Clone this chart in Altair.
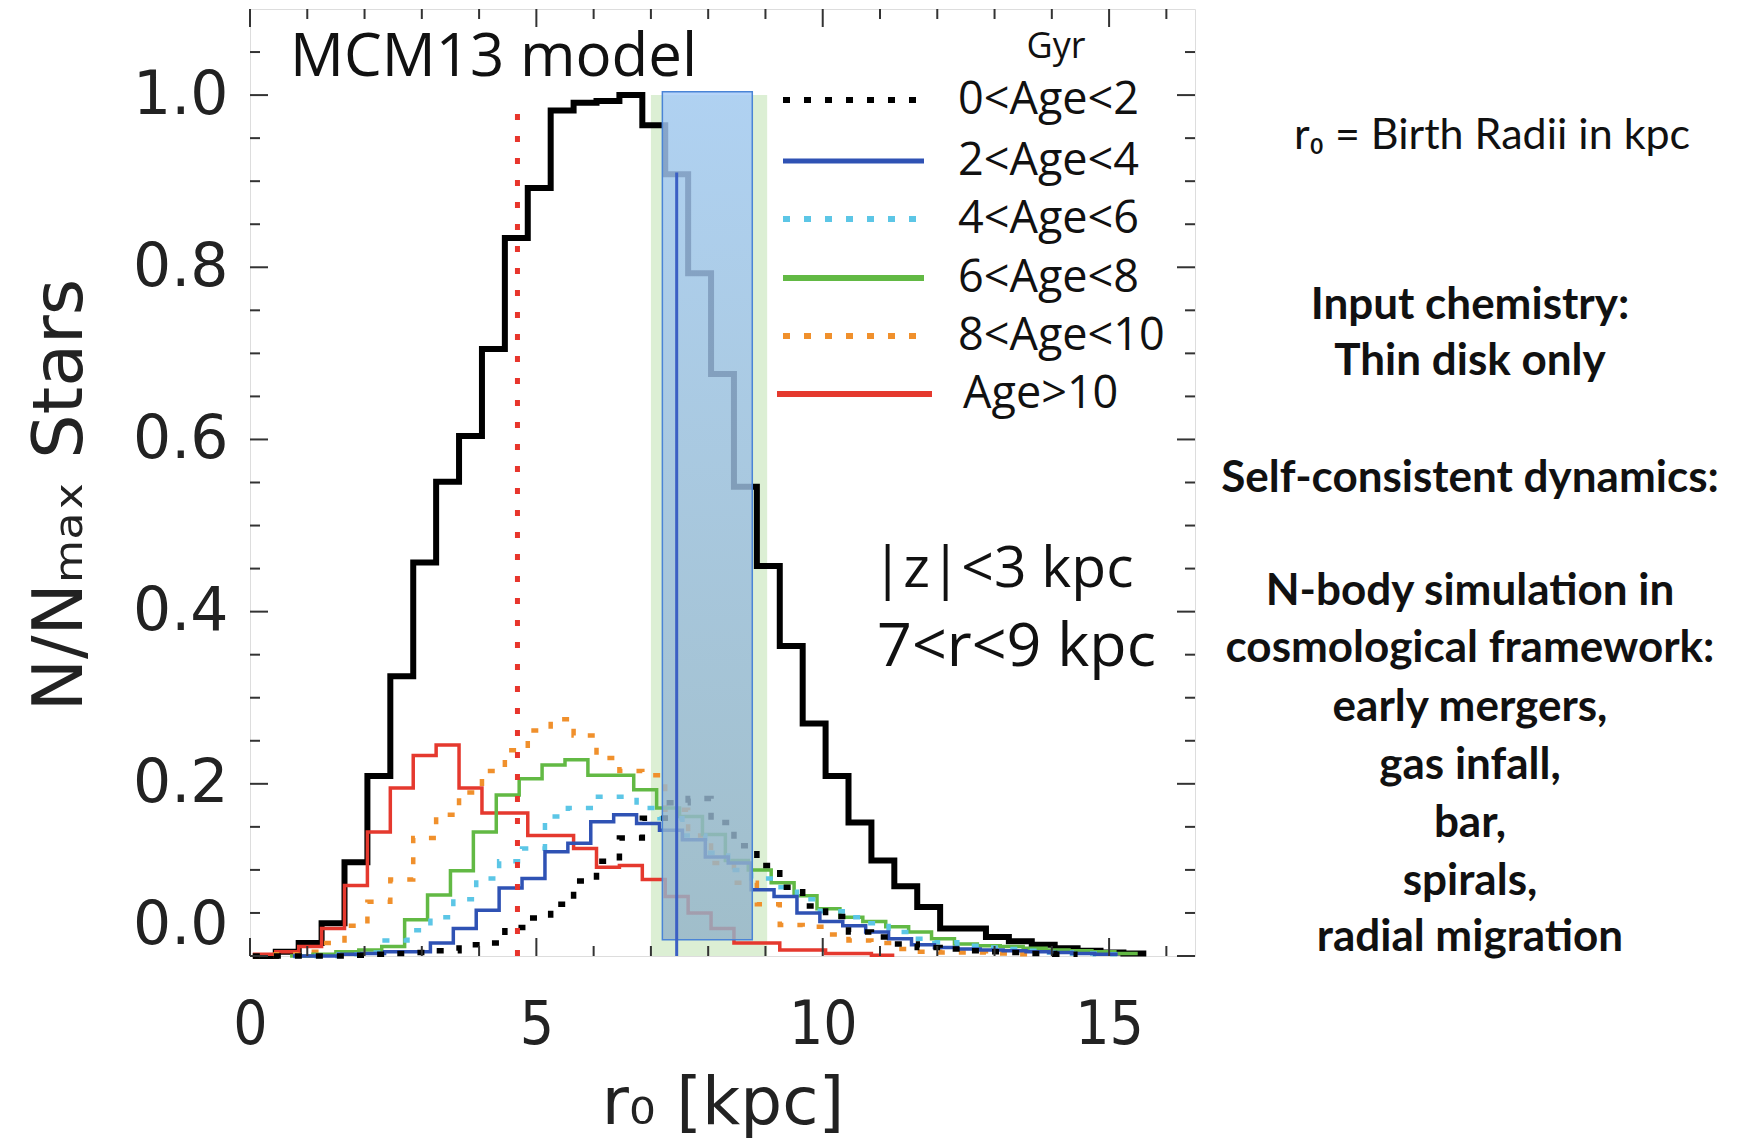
import altair as alt
import pandas as pd

# ---------------- data ----------------
BIN_W = 0.4  # kpc

total_start = 0.05
total_vals = [0.0, 0.005, 0.015, 0.038, 0.109, 0.209, 0.325, 0.457, 0.551, 0.604,
              0.705, 0.834, 0.892, 0.982, 0.991, 0.993, 1.0, 0.965, 0.908, 0.793,
              0.676, 0.545, 0.453, 0.36, 0.27, 0.209, 0.155, 0.111, 0.081, 0.057,
              0.032, 0.032, 0.022, 0.017, 0.013, 0.009, 0.006, 0.004, 0.003]

age0_2_start = 0.05
age0_2_vals = [0.0, 0.0, 0.0, 0.0, 0.001, 0.002, 0.003, 0.004, 0.006, 0.013,
               0.015, 0.033, 0.044, 0.06, 0.087, 0.11, 0.137, 0.16, 0.178, 0.183,
               0.155, 0.128, 0.105, 0.08, 0.058, 0.046, 0.028, 0.022, 0.014, 0.01,
               0.008, 0.006, 0.005, 0.004, 0.003, 0.002]

age2_4_start = 0.75
age2_4_vals = [0.0, 0.0, 0.002, 0.003, 0.005, 0.005, 0.015, 0.032, 0.053, 0.079,
               0.09, 0.121, 0.131, 0.156, 0.164, 0.154, 0.146, 0.135, 0.115, 0.108,
               0.077, 0.069, 0.05, 0.04, 0.035, 0.028, 0.02, 0.013, 0.01, 0.008,
               0.007, 0.006, 0.005, 0.004, 0.003, 0.002]

age4_6_start = 0.75
age4_6_vals = [0.0, 0.0, 0.002, 0.004, 0.018, 0.03, 0.045, 0.066, 0.09, 0.11,
               0.125, 0.162, 0.172, 0.185, 0.185, 0.172, 0.16, 0.14, 0.12, 0.1,
               0.09, 0.08, 0.066, 0.052, 0.045, 0.038, 0.028, 0.02, 0.016, 0.012,
               0.01, 0.008, 0.006, 0.004, 0.003, 0.002]

age6_8_start = 0.7
age6_8_vals = [0.0, 0.002, 0.005, 0.007, 0.011, 0.042, 0.071, 0.099, 0.144, 0.187,
               0.206, 0.222, 0.228, 0.21, 0.21, 0.193, 0.172, 0.162, 0.141, 0.111,
               0.1, 0.085, 0.07, 0.055, 0.045, 0.04, 0.034, 0.028, 0.02, 0.014,
               0.012, 0.011, 0.009, 0.007, 0.006, 0.005, 0.003]

age8_10_start = 0.05
age8_10_vals = [0.0, 0.002, 0.005, 0.015, 0.035, 0.063, 0.089, 0.137, 0.164, 0.19,
                0.215, 0.239, 0.262, 0.275, 0.256, 0.23, 0.215, 0.21, 0.17, 0.14,
                0.108, 0.085, 0.06, 0.036, 0.034, 0.025, 0.018, 0.015, 0.008, 0.005,
                0.004, 0.004, 0.003, 0.002]

age10_start = 0.05
age10_vals = [0.002, 0.005, 0.011, 0.032, 0.082, 0.144, 0.195, 0.233, 0.245, 0.195,
              0.166, 0.166, 0.14, 0.14, 0.125, 0.103, 0.105, 0.089, 0.069, 0.05,
              0.032, 0.015, 0.015, 0.007, 0.007, 0.003, 0.003, 0.001]

legend_labels = ["0<Age<2", "2<Age<4", "4<Age<6", "6<Age<8", "8<Age<10", "Age>10"]

sun_band = [7.0, 9.03, 0.0, 1.0]        # x1, x2, y1, y2 (kpc, N/Nmax)
box = [7.2, 8.77, 0.019, 1.004]
red_line = [4.67, 0.0, 0.98]
blue_line = [7.45, 0.0, 0.91]

x_major = [0, 5, 10, 15]
x_minor = [1, 2, 3, 4, 6, 7, 8, 9, 11, 12, 13, 14, 16]
y_major = [0.0, 0.2, 0.4, 0.6, 0.8, 1.0]
y_minor = [0.05, 0.1, 0.15, 0.25, 0.3, 0.35, 0.45, 0.5, 0.55, 0.65, 0.7, 0.75,
           0.85, 0.9, 0.95, 1.05]

y_title = "N/N\u2098\u2090\u2093 Stars"
side_title = "r\u2080 = Birth Radii in kpc"
side_lines = ["Input chemistry:", "Thin disk only", "Self-consistent dynamics:",
              "N-body simulation in", "cosmological framework:", "early mergers,",
              "gas infall,", "bar,", "spirals,", "radial migration"]

# ---------------- layout / style ----------------
W, H = 945, 947
PAD = {"left": 250, "top": 9, "right": 551, "bottom": 189}
BLACK = "#000000"
C_BLUE = "#2f52b4"
C_CYAN = "#5cc6e6"
C_GREEN = "#62b944"
C_ORANGE = "#f0902c"
C_RED = "#e5392e"
DOT = [7, 14]

xs = alt.Scale(domain=[0, 16.5], nice=False, zero=False)
ys = alt.Scale(domain=[0, 1.1], nice=False, zero=False)

X_AXIS = alt.Axis(values=x_major, ticks=False, domain=False, grid=False,
                  labelFontSize=60, labelFont="DejaVu Sans Condensed",
                  labelColor="#222", labelPadding=40, labelFlush=False,
                  title="r\u2080  [kpc]", titleFontSize=66,
                  titleFont="DejaVu Sans", titleFontWeight="normal",
                  titleColor="#222", titlePadding=16)
Y_AXIS = alt.Axis(values=y_major, format=".1f", ticks=False, domain=False,
                  grid=False, labelFontSize=60, labelFont="DejaVu Sans",
                  labelColor="#222", labelPadding=22, labelFlush=5, title=None)


def X(field):
    return alt.X(field, scale=xs, axis=X_AXIS)


def Y(field):
    return alt.Y(field, scale=ys, axis=Y_AXIS)


def hist_df(start, vals):
    xs_ = [start + i * BIN_W for i in range(len(vals))] + [start + len(vals) * BIN_W]
    vs_ = list(vals) + [vals[-1]]
    return pd.DataFrame({"r": xs_, "v": vs_})


def hist_layer(start, vals, color, width, dash=None):
    kw = dict(interpolate="step-after", color=color, strokeWidth=width,
              strokeCap="butt", strokeJoin="miter")
    if dash:
        kw["strokeDash"] = dash
    return alt.Chart(hist_df(start, vals)).mark_line(**kw).encode(
        x=X("r:Q"), y=Y("v:Q"))


band = alt.Chart(pd.DataFrame({"x1": [sun_band[0]], "x2": [sun_band[1]],
                               "y1": [sun_band[2]], "y2": [sun_band[3]]})).mark_rect(
    color="#dcefd4").encode(x=X("x1:Q"), x2="x2:Q", y=Y("y1:Q"), y2="y2:Q")

layers = [band]
layers.append(hist_layer(total_start, total_vals, BLACK, 6))
layers.append(hist_layer(age10_start, age10_vals, C_RED, 3.5))
layers.append(hist_layer(age8_10_start, age8_10_vals, C_ORANGE, 4.5, DOT))
layers.append(hist_layer(age6_8_start, age6_8_vals, C_GREEN, 3.5))
layers.append(hist_layer(age4_6_start, age4_6_vals, C_CYAN, 4.5, DOT))
layers.append(hist_layer(age2_4_start, age2_4_vals, C_BLUE, 3.5))
layers.append(hist_layer(age0_2_start, age0_2_vals, BLACK, 5.5, DOT))

# red dotted vertical line
layers.append(alt.Chart(pd.DataFrame({"x": [red_line[0]], "y1": [red_line[1]],
                                      "y2": [red_line[2]]})).mark_rule(
    color="#e8352c", strokeWidth=5, strokeDash=[6, 16], strokeCap="butt").encode(
    x=X("x:Q"), y=Y("y1:Q"), y2="y2:Q"))

# translucent blue box
grad = alt.LinearGradient(gradient="linear", x1=0, x2=0, y1=0, y2=1,
                          stops=[alt.GradientStop(color="#a6cbf8", offset=0),
                                 alt.GradientStop(color="#93b3c8", offset=1)])
layers.append(alt.Chart(pd.DataFrame({"x1": [box[0]], "x2": [box[1]],
                                      "y1": [box[2]], "y2": [box[3]]})).mark_rect(
    fill=grad, fillOpacity=0.82, stroke="#4a84d6", strokeWidth=1.5).encode(
    x=X("x1:Q"), x2="x2:Q", y=Y("y1:Q"), y2="y2:Q"))

# blue vertical line
layers.append(alt.Chart(pd.DataFrame({"x": [blue_line[0]], "y1": [blue_line[1]],
                                      "y2": [blue_line[2]]})).mark_rule(
    color="#3b5fc4", strokeWidth=3).encode(x=X("x:Q"), y=Y("y1:Q"), y2="y2:Q"))

# inward ticks on all four sides
TICK_COL = "#333"
for vals, ln in ((x_major, 18), (x_minor, 10)):
    d = pd.DataFrame({"t": vals})
    layers.append(alt.Chart(d).mark_rule(color=TICK_COL, strokeWidth=2).encode(
        x=X("t:Q"), y=alt.value(H), y2=alt.value(H - ln)))
    layers.append(alt.Chart(d).mark_rule(color=TICK_COL, strokeWidth=2).encode(
        x=X("t:Q"), y=alt.value(0), y2=alt.value(ln)))
for vals, ln in ((y_major, 18), (y_minor, 10)):
    d = pd.DataFrame({"t": vals})
    layers.append(alt.Chart(d).mark_rule(color=TICK_COL, strokeWidth=2).encode(
        y=Y("t:Q"), x=alt.value(0), x2=alt.value(ln)))
    layers.append(alt.Chart(d).mark_rule(color=TICK_COL, strokeWidth=2).encode(
        y=Y("t:Q"), x=alt.value(W), x2=alt.value(W - ln)))


def text_layer(txt, px, py, size, font="Open Sans", weight="normal", align="left",
               baseline="alphabetic", color="#111", angle=0):
    return alt.Chart(pd.DataFrame({"t": [txt]})).mark_text(
        font=font, fontSize=size, fontWeight=weight, align=align, baseline=baseline,
        color=color, angle=angle).encode(x=alt.value(px), y=alt.value(py), text="t:N")


# y-axis title (rotated)
layers.append(text_layer(y_title, -189, 486, 70, font="DejaVu Sans", align="center",
                         baseline="middle", color="#222", angle=270))

layers.append(text_layer("MCM13 model", 40, 67, 60))
layers.append(text_layer("|z|<3 kpc", 622, 578, 57))
layers.append(text_layer("7<r<9 kpc", 627, 657, 61))

# custom legend
leg_y = [91, 152, 210, 269, 327, 385]
leg_style = [(BLACK, DOT, 6), (C_BLUE, None, 5), (C_CYAN, DOT, 6),
             (C_GREEN, None, 6), (C_ORANGE, DOT, 6), (C_RED, None, 6)]
layers.append(text_layer("Gyr", 806, 38, 36, align="center", baseline="middle"))
for lab, yy, (col, dash, wid) in zip(legend_labels, leg_y, leg_style):
    x1, x2 = (527, 682) if lab == "Age>10" else (533, 674)
    kw = dict(color=col, strokeWidth=wid, strokeCap="butt")
    if dash:
        kw["strokeDash"] = dash
    layers.append(alt.Chart(pd.DataFrame({"t": [lab]})).mark_rule(**kw).encode(
        x=alt.value(x1), x2=alt.value(x2), y=alt.value(yy)))
    lx = 713 if lab == "Age>10" else 708
    layers.append(text_layer(lab, lx, yy, 45, baseline="middle"))

# side panel text
layers.append(text_layer(side_title, 1242, 127, 43, font="Lato", align="center",
                         baseline="middle"))
side_y = [297, 353, 470, 583, 640, 699, 757, 815, 873, 929]
for s, yy in zip(side_lines, side_y):
    layers.append(text_layer(s, 1220, yy, 44, font="Lato", weight="bold",
                             align="center", baseline="middle"))

chart = alt.layer(*layers).properties(
    width=W, height=H,
    autosize=alt.AutoSizeParams(type="none"),
    padding=PAD,
).configure_view(stroke="#222", strokeWidth=2.5).configure(background="white")

chart.save("out.html", embed_options={"renderer": "svg", "actions": False})
